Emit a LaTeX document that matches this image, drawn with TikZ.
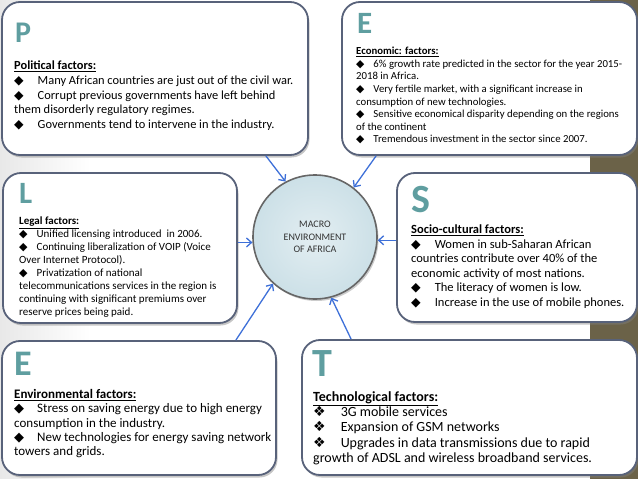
\documentclass[tikz,border=0pt]{standalone}
\usepackage{fontspec}
\setmainfont{Carlito}
\newfontfamily\symfont{DejaVu Sans}
\usetikzlibrary{arrows.meta,positioning,shadows,calc}

\definecolor{framecol}{RGB}{88,98,122}
\definecolor{lettercol}{RGB}{95,158,160}
\definecolor{arrowcol}{RGB}{62,112,216}
\definecolor{stripcol}{RGB}{107,98,72}
\definecolor{ballcol}{RGB}{204,224,231}

\newcommand{\bul}[1][9pt]{{\symfont ◆}\hspace{#1}}
\newcommand{\tbul}[1][15pt]{{\symfont ❖}\hspace{#1}}

\begin{document}
\begin{tikzpicture}[x=1pt, y=-1pt,
            factor/.style={draw=framecol, line width=1.8pt, fill=white, rounded corners=18pt,
                drop shadow={shadow xshift=1.5pt, shadow yshift=-2.5pt, opacity=0.45}}, % one box per factor
            letter/.style={anchor=base west, inner sep=0pt, text=lettercol, font=\bfseries},
            body/.style={anchor=north west, inner sep=0pt, align=left},
            arr/.style={-{Straight Barb[length=5pt,width=9pt]}, draw=arrowcol, line width=1.3pt},
        ]
        \useasboundingbox (0,0) rectangle (638,479);
        % background
        \fill[left color=gray!18, right color=white] (0,0) rectangle (90,479);
        \fill[stripcol] (590,0) rectangle (638,479);

        % boxes
        \node[factor, minimum width=306pt, minimum height=153pt] (p) at (155,78.5) {};
        \node[factor, minimum width=295pt, minimum height=153pt] (ec) at (489.5,78.5) {};
        \node[factor, minimum width=234pt, minimum height=150pt] (l) at (120,248) {};
        \node[factor, minimum width=240pt, minimum height=149pt] (s) at (517,247.5) {};
        \node[factor, minimum width=274pt, minimum height=134pt] (en) at (139,408) {};
        \node[factor, minimum width=335pt, minimum height=135pt] (t) at (469.5,407.5) {};

        % centre
        \node[circle, minimum size=124pt, draw=black!60, line width=1.6pt, inner color=ballcol!55, outer color=ballcol,
            drop shadow={shadow xshift=1.5pt, shadow yshift=-2pt, opacity=0.4},
            align=center, font=\fontsize{10}{12.5}\selectfont, text=black!80] (m) at (315,237)
            {MACRO\\ENVIRONMENT\\OF AFRICA};

        % letters
        \node[letter, font=\bfseries\fontsize{30}{30}\selectfont] (pl) at (15,42) {P};
        \node[letter, font=\bfseries\fontsize{31}{31}\selectfont] (ecl) at (357,33) {E};
        \node[letter, font=\bfseries\fontsize{31}{31}\selectfont] (ll) at (19,203) {L};
        \node[letter, font=\bfseries\fontsize{40}{40}\selectfont] (sl) at (411,212) {S};
        \node[letter, font=\bfseries\fontsize{36}{36}\selectfont] (enl) at (14,375) {E};
        \node[letter, font=\bfseries\fontsize{40}{40}\selectfont] (tl) at (312,376) {T};

        % texts
        \node[body, font=\fontsize{12.4}{14.6}\selectfont] (pt) at (14,61) {\underline{\textbf{Political factors:}}\\
            \bul[14pt]Many African countries are just out of the civil war.\\
            \bul[14pt]Corrupt previous governments have left behind\\
            them disorderly regulatory regimes.\\
            \bul[14pt]Governments tend to intervene in the industry.};
        \node[body, font=\fontsize{10.75}{12.6}\selectfont] (ect) at (356,47) {\underline{\textbf{Economic: factors:}}\\
            \bul 6\% growth rate predicted in the sector for the year 2015-\\
            2018 in Africa.\\
            \bul Very fertile market, with a significant increase in\\
            consumption of new technologies.\\
            \bul Sensitive economical disparity depending on the regions\\
            of the continent\\
            \bul Tremendous investment in the sector since 2007.};
        \node[body, font=\fontsize{11}{12.9}\selectfont] (lt) at (19,217) {\underline{\textbf{Legal factors:}}\\
            \bul Unified licensing introduced\ \ in 2006.\\
            \bul Continuing liberalization of VOIP (Voice\\
            Over Internet Protocol).\\
            \bul Privatization of national\\
            telecommunications services in the region is\\
            continuing with significant premiums over\\
            reserve prices being paid.};
        \node[body, font=\fontsize{12.5}{14.5}\selectfont] (st) at (411,225) {\underline{\textbf{Socio-cultural factors:}}\\
            \bul[14pt]Women in sub-Saharan African\\
            countries contribute over 40\% of the\\
            economic activity of most nations.\\
            \bul[14pt]The literacy of women is low.\\
            \bul[14pt]Increase in the use of mobile phones.};
        \node[body, font=\fontsize{13}{14.4}\selectfont] (ent) at (14,389) {\underline{\textbf{Environmental factors:}}\\
            \bul[13pt]Stress on saving energy due to high energy\\
            consumption in the industry.\\
            \bul[13pt]New technologies for energy saving network\\
            towers and grids.};
        \node[body, font=\fontsize{14}{15.4}\selectfont] (tt) at (313,391) {\underline{\textbf{Technological factors:}}\\
            \tbul 3G mobile services\\
            \tbul Expansion of GSM networks\\
            \tbul Upgrades in data transmissions due to rapid\\
            growth of ADSL and wireless broadband services.};

        % connectors
        \draw[arr] ([xshift=-43pt]p.south east) -- (m.118);
        \draw[arr] ([xshift=35pt]ec.south west) -- (m.52);
        \draw[arr] (l.east |- m.185) -- (m.185);
        \draw[arr] (s.west |- m.-3) -- (m.-3);
        \draw[arr] ([xshift=-41pt]en.north east) -- (m.228);
        \draw[arr] ([xshift=50pt]t.north west) -- (m.285);
\end{tikzpicture}
\end{document}
